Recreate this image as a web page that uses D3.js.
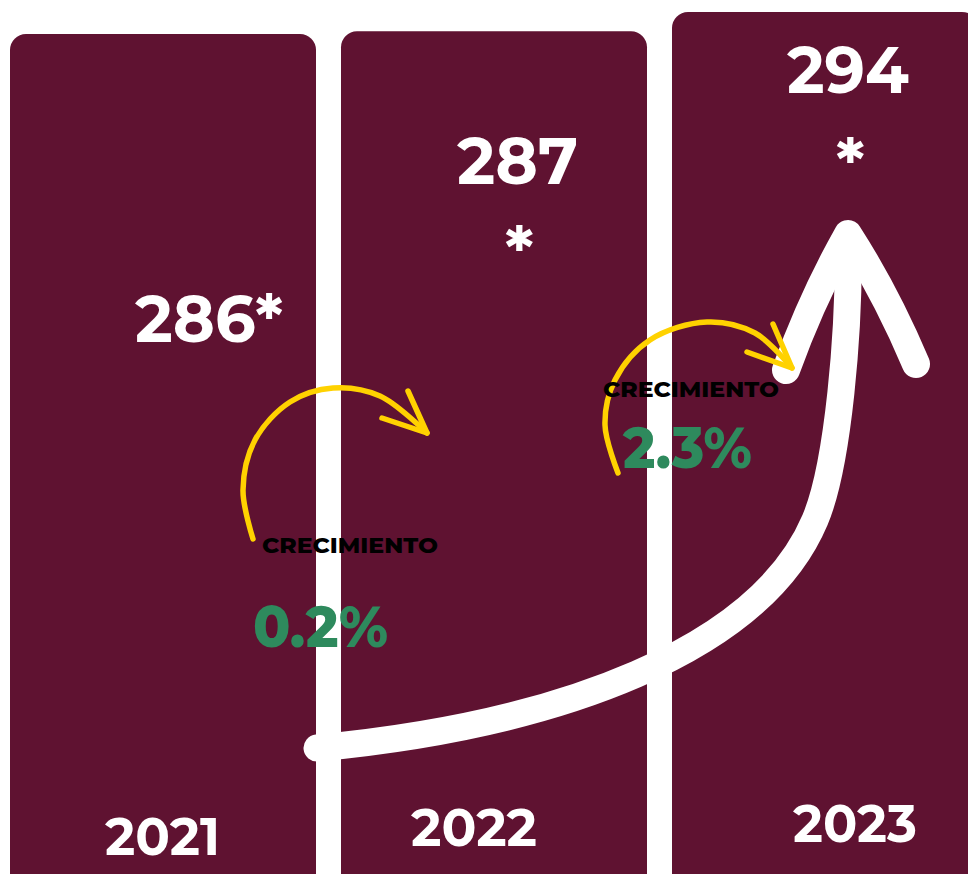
<!DOCTYPE html>
<html><head><meta charset="utf-8">
<script src="https://cdn.jsdelivr.net/npm/d3@7"></script>
<style>html,body{margin:0;padding:0;background:#fff;overflow:hidden}</style>
</head><body>
<svg id="c" width="968" height="874"></svg>
<script>
const years = ["2021", "2022", "2023"];
const values = [286, 287, 294];
const valueLabels = ["286*", "287", "294"];
const valueStars = ["", "*", "*"];
const growthLabel = "CRECIMIENTO";
const growthValues = ["0.2%", "2.3%"];

const W = 968, H = 874;
const barColor = "#5f1231", green = "#2e8a5d", yellow = "#ffd200";
const font = "Montserrat, Inter, 'DejaVu Sans', sans-serif";

const svg = d3.select("#c");
const x = d3.scaleBand().domain(years).range([10, 978]).paddingInner(25 / 331).paddingOuter(0);
const y = d3.scaleLinear().domain([286, 294]).range([34, 12]);

// bars
svg.selectAll("rect.bar").data(values).join("rect")
  .attr("class", "bar")
  .attr("x", (d, i) => x(years[i]))
  .attr("y", d => y(d))
  .attr("width", x.bandwidth())
  .attr("height", d => H + 40 - y(d))
  .attr("rx", 16)
  .attr("fill", barColor);

// big white growth arrow (decoration)
const line = d3.line().curve(d3.curveCatmullRom.alpha(0.5));
const shaft = d3.path();
shaft.moveTo(317, 748);
shaft.bezierCurveTo(560, 725, 760, 650, 815, 520);
shaft.bezierCurveTo(838, 466, 850, 330, 848, 236);
svg.append("path").attr("d", shaft.toString())
  .attr("fill", "none").attr("stroke", "#fff").attr("stroke-width", 27)
  .attr("stroke-linecap", "round").attr("stroke-linejoin", "round");
const head = d3.path();
head.moveTo(786, 370); head.quadraticCurveTo(812, 298, 848, 234);
head.quadraticCurveTo(886, 293, 916, 364);
svg.append("path").attr("d", head.toString())
  .attr("fill", "none").attr("stroke", "#fff").attr("stroke-width", 28)
  .attr("stroke-linecap", "round").attr("stroke-linejoin", "round");

// yellow curved arrows
const arcs = [
  {pts: [[253,539],[243,490],[255,440],[290,402],[333,388],[380,396],[427,433]], arms: [[382,418],[427,433],[408,391]]},
  {pts: [[618,473],[605,425],[615,380],[650,340],[707,322],[755,333],[792,368]], arms: [[747,352],[792,368],[773,324]]}
];
arcs.forEach(a => {
  svg.append("path").attr("d", line(a.pts)).attr("fill", "none")
    .attr("stroke", yellow).attr("stroke-width", 5.5).attr("stroke-linecap", "round");
  svg.append("path").attr("d", d3.line()(a.arms)).attr("fill", "none")
    .attr("stroke", yellow).attr("stroke-width", 5.5).attr("stroke-linecap", "round").attr("stroke-linejoin", "round");
});

function txt(s, x0, base, w, size, fill, weight) {
  return svg.append("text").attr("x", x0).attr("y", base)
    .attr("textLength", w).attr("lengthAdjust", "spacingAndGlyphs")
    .attr("font-family", font).attr("font-weight", weight || 700)
    .attr("font-size", size).attr("fill", fill).text(s);
}

// value labels
const valPos = [[135, 342, 148], [457, 184, 121], [787, 93, 122]];
valueLabels.forEach((s, i) => txt(s, valPos[i][0], valPos[i][1], valPos[i][2], 66, "#fff", 700));
const starPos = [null, [505, 274], [836, 186]];
valueStars.forEach((s, i) => { if (s) svg.append("text").attr("x", starPos[i][0]).attr("y", starPos[i][1])
  .attr("font-family", font).attr("font-weight", 700).attr("font-size", 66).attr("fill", "#fff").text(s); });

// year labels
const yearPos = [[105, 855, 115], [411, 846, 126], [793, 842, 124]];
years.forEach((s, i) => txt(s, yearPos[i][0], yearPos[i][1], yearPos[i][2], 52, "#fff", 700));

// growth annotations
const gPos = [{lx: 262, lb: 553, gx: 253, gb: 647, gw: 135}, {lx: 603, lb: 397, gx: 623, gb: 468, gw: 129}];
growthValues.forEach((g, i) => {
  txt(growthLabel, gPos[i].lx, gPos[i].lb, 176, 21, "#000", 800);
  txt(g, gPos[i].gx, gPos[i].gb, gPos[i].gw, 58, green, 800);
});
</script>
</body></html>
